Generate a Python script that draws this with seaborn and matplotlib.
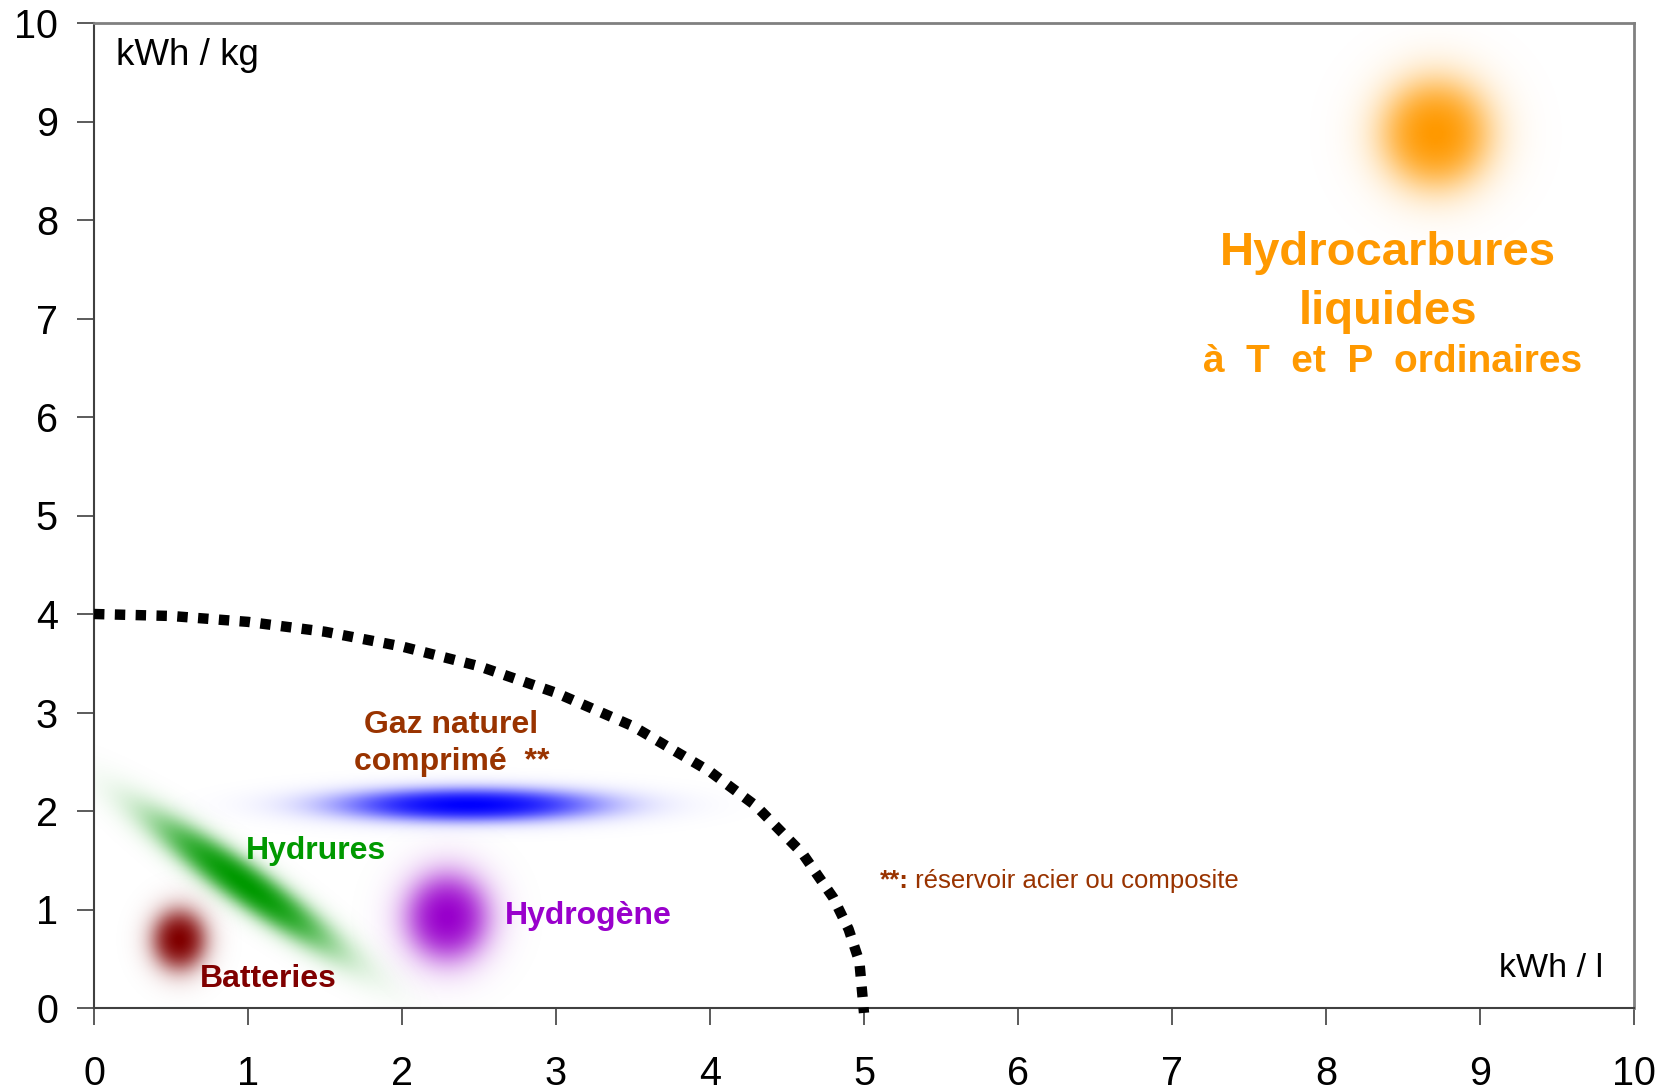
import numpy as np
import pandas as pd
import matplotlib
matplotlib.use('Agg')
import matplotlib.pyplot as plt
import seaborn as sns
from matplotlib.colors import to_rgb

# Energy density frontier (kWh/l vs kWh/kg)
frontier_x = [0, 0.5, 1, 1.5, 2, 2.5, 3, 3.5, 4, 4.3, 4.6, 4.8, 4.9, 4.97, 5.0]
frontier_y = [4.0, 3.98, 3.92, 3.82, 3.67, 3.47, 3.2, 2.86, 2.4, 2.05, 1.57, 1.12, 0.80, 0.47, -0.05]

# Storage families: blob centre, half-size (pixels), tilt, colour
families = ['Hydrocarbures', 'Gaz naturel', 'Hydrures', 'Batteries', 'Hydrogène']
blob_x = [8.71, 2.43, 0.97, 0.55, 2.29]
blob_y = [8.88, 2.06, 1.26, 0.69, 0.92]
blob_a = [100, 235, 195, 50, 76]
blob_b = [100, 30, 38, 56, 80]
blob_angle = [0, 0, -35.4, 0, 0]
colors = ['#FF9900', '#0000FF', '#009900', '#800000', '#9900CC']

ticks = list(range(0, 11))

W, H = 1669, 1092
fig = plt.figure(figsize=(W / 100, H / 100), dpi=100)
sns.set_theme(style='white')
plt.rcParams['font.family'] = ['Liberation Sans', 'DejaVu Sans']
plt.rcParams['text.color'] = 'black'

ax_l, ax_b, ax_w, ax_h = 94 / W, 1 - 1008 / H, 1540 / W, 985 / H
ax = fig.add_axes([ax_l, ax_b, ax_w, ax_h])
ax.set_xlim(0, 10)
ax.set_ylim(0, 10)
sx = ax_w * W / 10
sy = ax_h * H / 10

# soft blobs
gx = np.linspace(0, 10, 1200)
gy = np.linspace(0, 10, 1200)
X, Y = np.meshgrid(gx, gy)
for cx, cy, a, b, ang, col in zip(blob_x, blob_y, blob_a, blob_b, blob_angle, colors):
    u = (X - cx) * sx
    v = (Y - cy) * sy
    t = np.deg2rad(ang)
    ur = u * np.cos(t) + v * np.sin(t)
    vr = -u * np.sin(t) + v * np.cos(t)
    r = np.sqrt((ur / a) ** 2 + (vr / b) ** 2)
    alpha = np.clip(1.05 / (1 + np.exp((r - 0.48) / 0.14)), 0, 1)
    img = np.zeros(X.shape + (4,))
    img[..., :3] = to_rgb(col)
    img[..., 3] = alpha
    ax.imshow(img, extent=(0, 10, 0, 10), origin='lower', interpolation='bilinear',
              aspect='auto', zorder=1)

df = pd.DataFrame({'x': frontier_x, 'y': frontier_y})
sns.lineplot(data=df, x='x', y='y', sort=False, estimator=None, color='black',
             linewidth=7.5, linestyle=(0, (1, 1)), ax=ax, zorder=3, clip_on=False)

ax.set_xticks(ticks)
ax.set_yticks(ticks)
ax.set_xlabel('')
ax.set_ylabel('')
ax.tick_params(axis='both', direction='out', length=12, width=1.2, colors='#404040',
               labelsize=28.5, labelcolor='black', bottom=True, left=True)
ax.tick_params(axis='x', pad=22)
ax.tick_params(axis='y', pad=14)
for s in ['left', 'bottom']:
    ax.spines[s].set_color('#404040')
    ax.spines[s].set_linewidth(1.5)
for s in ['top', 'right']:
    ax.spines[s].set_color('#808080')
    ax.spines[s].set_linewidth(2)
ax.set_xlim(0, 10)
ax.set_ylim(0, 10)

# texts
ax.text(0.14, 9.67, 'kWh / kg', fontsize=26.5, color='black', ha='left', va='center')
ax.text(9.80, 0.40, 'kWh / l', fontsize=24.5, color='black', ha='right', va='center')

orange = colors[0]
ax.text(8.40, 7.66, 'Hydrocarbures', fontsize=34, fontweight='bold', color=orange,
        ha='center', va='center')
ax.text(8.40, 7.07, 'liquides', fontsize=34, fontweight='bold', color=orange,
        ha='center', va='center')
ax.text(8.43, 6.56, 'à  T  et  P  ordinaires', fontsize=28, fontweight='bold', color=orange,
        ha='center', va='center')

brown = '#993300'
ax.text(2.32, 2.87, 'Gaz naturel', fontsize=23, fontweight='bold', color=brown,
        ha='center', va='center')
ax.text(2.32, 2.50, 'comprimé  **', fontsize=23, fontweight='bold', color=brown,
        ha='center', va='center')
ax.text(1.44, 1.59, 'Hydrures', fontsize=23, fontweight='bold', color=colors[2],
        ha='center', va='center')
ax.text(3.21, 0.93, 'Hydrogène', fontsize=23, fontweight='bold', color=colors[4],
        ha='center', va='center')
ax.text(1.13, 0.29, 'Batteries', fontsize=23, fontweight='bold', color=colors[3],
        ha='center', va='center')

t1 = ax.text(5.10, 1.29, '**:', fontsize=18.5, fontweight='bold', color=brown,
             ha='left', va='center')
ax.annotate(' réservoir acier ou composite', xy=(1, 0), xycoords=t1, fontsize=18.5,
            color=brown, ha='left', va='bottom')

fig.savefig('out.png', dpi=100)
